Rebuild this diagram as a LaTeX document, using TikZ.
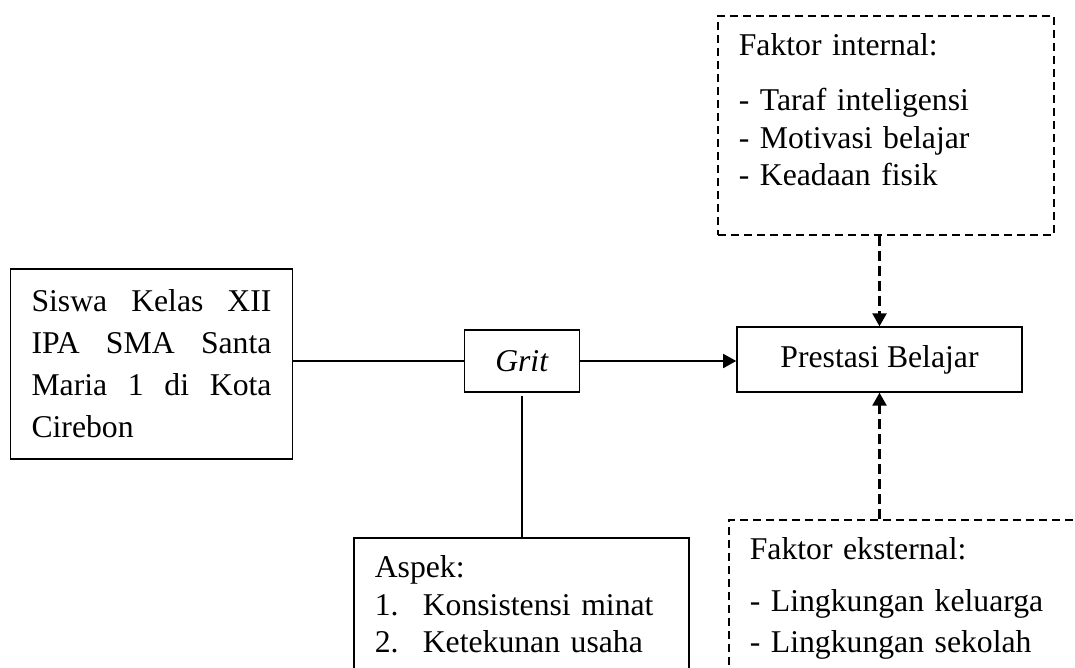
\documentclass[tikz,border=0pt]{standalone}
\usepackage{fontspec}
\setmainfont{Liberation Serif}
\usetikzlibrary{arrows.meta}
\newcommand{\jline}[1]{\makebox[240pt][l]{#1}}
\newcommand{\numitem}[1]{\makebox[48pt][l]{#1}}

\begin{document}
\begin{tikzpicture}[line join=miter,>={Triangle[length=13pt,width=14pt]},x=1pt,y=-1pt,
  box/.style={draw,line width=1.6pt,rectangle,inner xsep=21pt,inner ysep=18pt,align=left,font=\fontsize{31.7}{37.5}\selectfont},
  dbox/.style={box,dash pattern=on 8pt off 5pt},
  link/.style={line width=1.6pt},
  darrow/.style={->,line width=2.4pt,dash pattern=on 10pt off 5pt}]
\useasboundingbox (0,0) rectangle (1075,667);
\clip (0,0) rectangle (1075,667);

% boxes
\node[box,text width=240pt,minimum height=190pt,font=\fontsize{31.7}{42}\selectfont] (siswa) at (151.5,364)
  {\jline{Siswa\hfill Kelas\hfill XII}\\ \jline{IPA\hfill SMA\hfill Santa}\\ \jline{Maria\hfill 1\hfill di\hfill Kota}\\ Cirebon};
\node[box,minimum width=115pt,minimum height=62pt] (grit) at (522,361) {\textit{Grit}};
\node[box,minimum width=285pt,minimum height=61pt] (prestasi) at (879.5,359.5) {Prestasi Belajar};
\node[box,anchor=north west,text width=293pt] (aspek) at (353,537)
  {Aspek:\\ \numitem{1.}Konsistensi minat\\ \numitem{2.}Ketekunan usaha\rule[-12pt]{0pt}{12pt}};
\node[dbox,anchor=north west,text width=294pt] (internal) at (717,15)
  {Faktor internal:\\[17.5pt] - Taraf inteligensi\\ - Motivasi belajar\\ - Keadaan fisik\rule[-31pt]{0pt}{31pt}};
\node[dbox,anchor=north west,text width=350pt] (eksternal) at (728,519)
  {Faktor eksternal:\\[14.5pt] - Lingkungan keluarga\\[3.5pt] - Lingkungan sekolah\rule[-20pt]{0pt}{20pt}};

% connectors
\draw[link] (siswa.east |- grit.west) -- (grit.west);
\draw[link,->] (grit.east) -- (grit.east -| prestasi.west);
\draw[link,shorten <=3pt] (grit.south) -- (grit.south |- aspek.north);
\draw[darrow] (internal.south -| prestasi.north) -- (prestasi.north);
\draw[darrow] (eksternal.north -| prestasi.south) -- (prestasi.south);
\end{tikzpicture}
\end{document}
